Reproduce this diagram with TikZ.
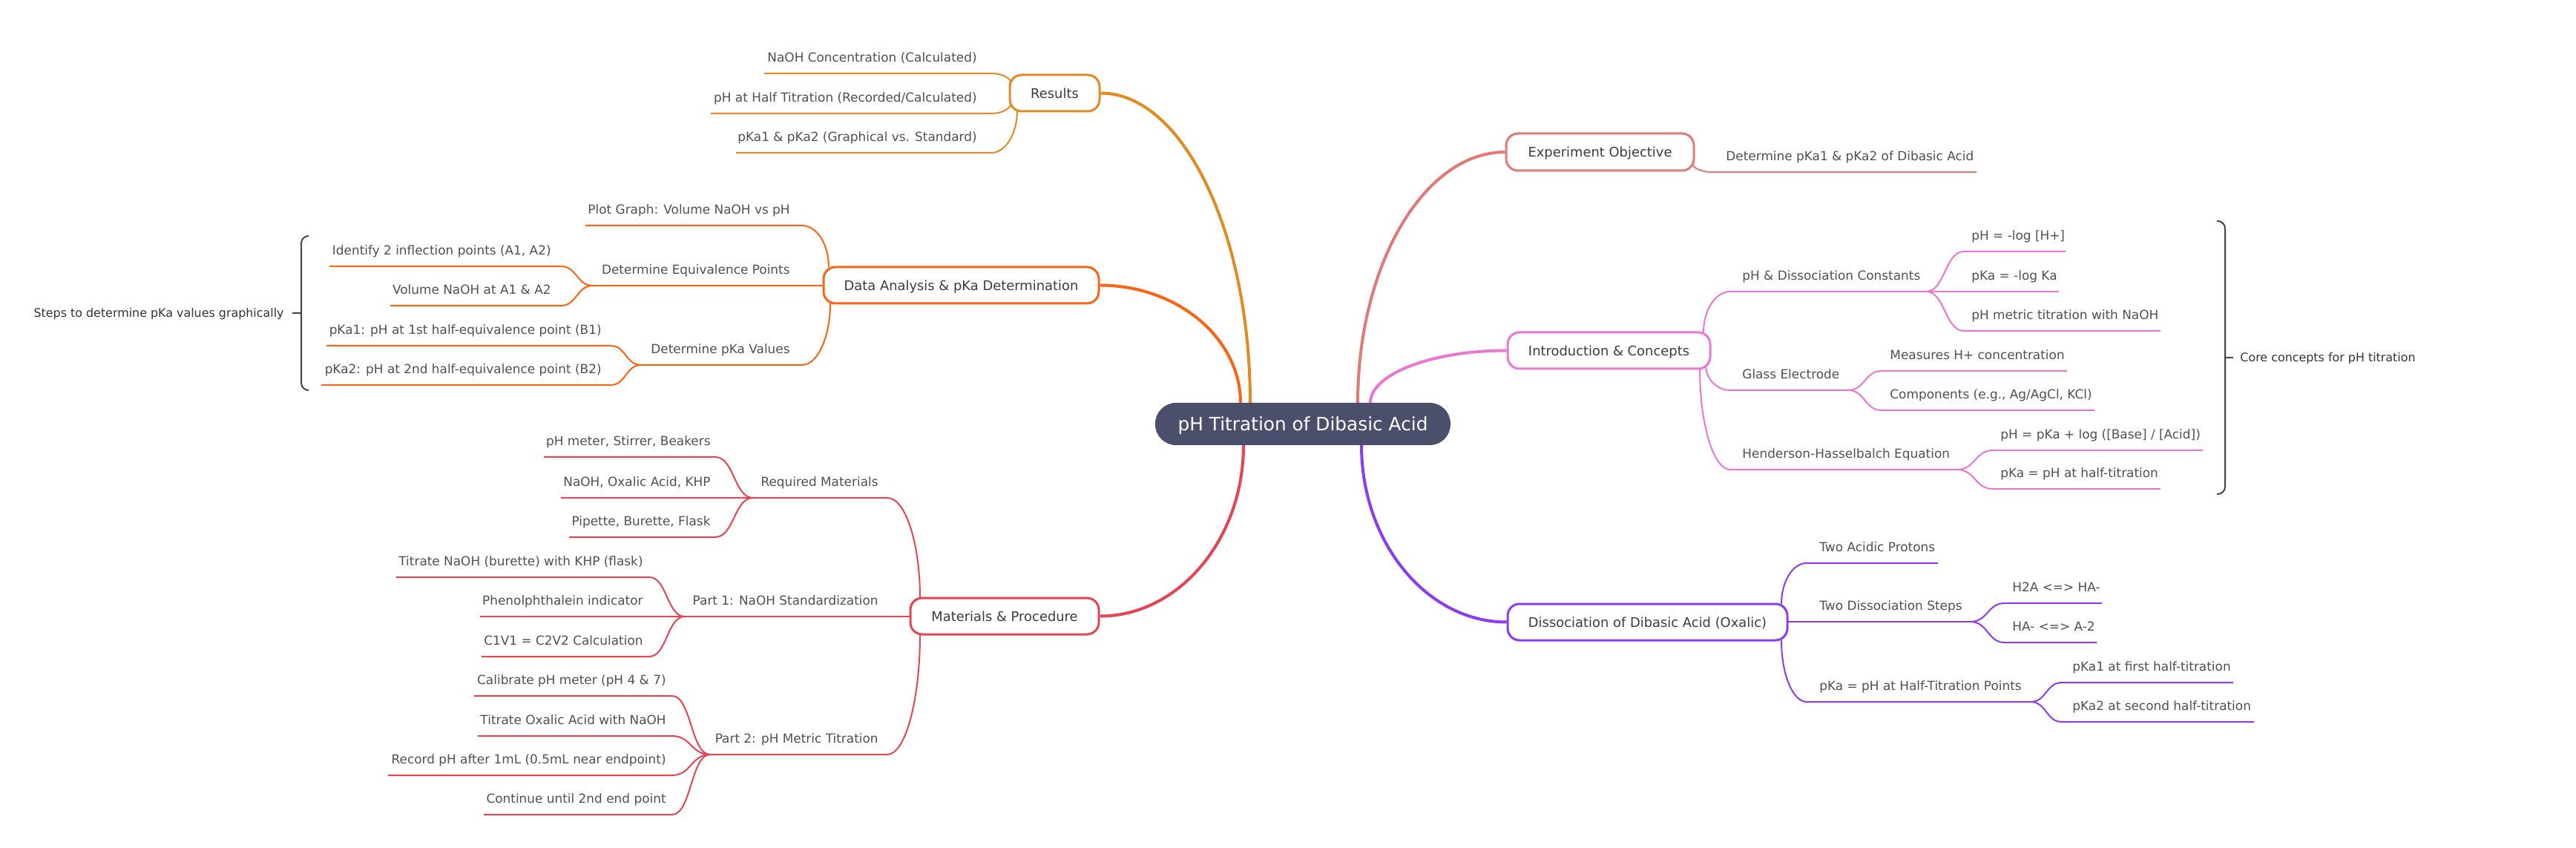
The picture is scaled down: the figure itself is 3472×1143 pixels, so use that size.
\documentclass[tikz,border=0pt]{standalone}
\usepackage{fontspec}
\setmainfont{DejaVu Sans}
\usetikzlibrary{calc}
\pgfdeclarelayer{bg}
\pgfsetlayers{bg,main}

\definecolor{cRes}{HTML}{E38B23}
\definecolor{cDat}{HTML}{FA6414}
\definecolor{cMat}{HTML}{E44553}
\definecolor{cExp}{HTML}{E07A76}
\definecolor{cInt}{HTML}{E878D2}
\definecolor{cDis}{HTML}{8C3CF0}
\definecolor{cRoot}{HTML}{4C4F6C}
\definecolor{cTxt}{HTML}{505050}
\definecolor{cBoxTxt}{HTML}{3C3C3C}
\definecolor{cBrace}{HTML}{444444}

\tikzset{
  elbowcurve/.style={to path={.. controls ($(\tikztostart)!0.55!(\tikztostart-|\tikztotarget)$) and ($(\tikztotarget)!0.55!(\tikztotarget|-\tikztostart)$) .. (\tikztotarget)}},
  scurve/.style={to path={.. controls ($(\tikztostart)!0.5!(\tikztostart-|\tikztotarget)$) and ($(\tikztotarget)!0.5!(\tikztotarget-|\tikztostart)$) .. (\tikztotarget)}},
  mainlink/.style={draw=#1, line width=2pt},
  leaflink/.style={draw=#1, line width=1pt},
  rootnode/.style={fill=cRoot, text=white, font=\fontsize{12.4}{14}\selectfont,
    rounded corners=14pt, minimum width=199pt, minimum height=28.5pt, inner sep=0pt,
    text height=9.05pt, text depth=0pt},
  boxnode/.style={draw=#1, fill=white, line width=1.5pt, rounded corners=8pt,
    minimum height=24.5pt, inner sep=0pt, font=\fontsize{8.95}{11}\selectfont,
    text=cBoxTxt, text height=6.53pt, text depth=0pt},
  leaf/.style={inner sep=0pt, font=\fontsize{8.45}{10}\selectfont, text=cTxt},
  note/.style={inner sep=0pt, font=\fontsize{7.95}{10}\selectfont, text=black!80},
  bracket/.style={draw=cBrace, line width=1pt, rounded corners=5pt}
}

\newcommand{\LeafL}[6]{%
  \coordinate (#1o) at (#5,#4);
  \coordinate (#1i) at (#6,#4);
  \node[leaf, anchor=base east] (#1) at (#3,#4-15.5) {#2};}
\newcommand{\LeafR}[6]{%
  \coordinate (#1i) at (#5,#4);
  \coordinate (#1o) at (#6,#4);
  \node[leaf, anchor=base west] (#1) at (#3,#4-15.5) {#2};}

\begin{document}
\begin{tikzpicture}[x=0.5pt, y=-0.5pt]
\useasboundingbox (0,0) rectangle (3472,1143);
\begin{pgfonlayer}{bg}
\fill[white] (0,0) rectangle (3472,1143);
\end{pgfonlayer}

% root and main boxes
\node[rootnode] (root) at (1756,571.5) {pH Titration of Dibasic Acid};
\node[boxnode=cRes, minimum width=60.5pt] (res) at (1421.5,125.5) {Results};
\node[boxnode=cDat, minimum width=185.5pt] (dat) at (1295.5,384.5) {Data Analysis \& pKa Determination};
\node[boxnode=cMat, minimum width=127pt] (mat) at (1354,830.5) {Materials \& Procedure};
\node[boxnode=cExp, minimum width=126.5pt, minimum height=25pt] (exp) at (2156.5,205) {Experiment Objective};
\node[boxnode=cInt, minimum width=136.5pt] (int) at (2168.5,472.5) {Introduction \& Concepts};
\node[boxnode=cDis, minimum width=188.5pt] (dis) at (2220.5,838.5) {Dissociation of Dibasic Acid (Oxalic)};

\coordinate (rootres) at (1685,543);
\coordinate (rootdat) at (1672,543);
\coordinate (rootmat) at (1676,600);
\coordinate (rootexp) at (1830,543);
\coordinate (rootint) at (1847,543);
\coordinate (rootdis) at (1835,600);

% attach points on boxes
\coordinate (resa) at (1363,113);
\coordinate (resb) at (1363,138);
\coordinate (resc) at (1371,149);
\coordinate (data) at (1117,360);
\coordinate (datc) at (1119,409);
\coordinate (mata) at (1240,806);
\coordinate (matc) at (1240,855);
\coordinate (expc) at (2281,220);
\coordinate (inta) at (2296,448);
\coordinate (intb) at (2299,492);
\coordinate (intc) at (2291,497);
\coordinate (disa) at (2401,814);
\coordinate (disc) at (2401,863);

% Results
\LeafL{ra}{NaOH Concentration (Calculated)}{1317}{99}{1030}{1336}
\LeafL{rb}{pH at Half Titration (Recorded/Calculated)}{1317}{153}{958}{1336}
\LeafL{rc}{pKa1 \& pKa2 (Graphical vs. Standard)}{1317}{206}{992}{1336}

% Data analysis
\LeafL{da}{Plot Graph: Volume NaOH vs pH}{1065}{304}{789}{1081}
\LeafL{db}{Determine Equivalence Points}{1065}{385}{799}{1110}
\LeafL{dba}{Identify 2 inflection points (A1, A2)}{743}{359}{444}{756}
\LeafL{dbb}{Volume NaOH at A1 \& A2}{743}{412}{526}{756}
\LeafL{dc}{Determine pKa Values}{1065}{492}{864}{1081}
\LeafL{dca}{pKa1: pH at 1st half-equivalence point (B1)}{811}{466}{440}{823}
\LeafL{dcb}{pKa2: pH at 2nd half-equivalence point (B2)}{811}{519}{433}{823}
\node[note, anchor=east] (stepsnote) at (383,423) {Steps to determine pKa values graphically};

% Materials
\LeafL{ma}{Required Materials}{1184}{671}{1015}{1196}
\LeafL{maa}{pH meter, Stirrer, Beakers}{958}{616}{733}{964}
\LeafL{mab}{NaOH, Oxalic Acid, KHP}{958}{671}{756}{1015}
\LeafL{mac}{Pipette, Burette, Flask}{958}{724}{767}{964}
\LeafL{mb}{Part 1: NaOH Standardization}{1184}{831}{923}{1227}
\LeafL{mba}{Titrate NaOH (burette) with KHP (flask)}{867}{778}{534}{875}
\LeafL{mbb}{Phenolphthalein indicator}{867}{831}{647}{923}
\LeafL{mbc}{C1V1 = C2V2 Calculation}{867}{885}{649}{875}
\LeafL{mc}{Part 2: pH Metric Titration}{1184}{1017}{957}{1196}
\LeafL{mca}{Calibrate pH meter (pH 4 \& 7)}{898}{938}{639}{906}
\LeafL{mcb}{Titrate Oxalic Acid with NaOH}{898}{992}{644}{906}
\LeafL{mcc}{Record pH after 1mL (0.5mL near endpoint)}{898}{1045}{523}{906}
\LeafL{mcd}{Continue until 2nd end point}{898}{1098}{652}{906}

% Experiment objective
\LeafR{ea}{Determine pKa1 \& pKa2 of Dibasic Acid}{2326}{232}{2308}{2664}

% Introduction
\LeafR{ia}{pH \& Dissociation Constants}{2348}{393}{2332}{2596}
\LeafR{iaa}{pH = -log [H+]}{2657}{339}{2647}{2784}
\LeafR{iab}{pKa = -log Ka}{2657}{393}{2596}{2775}
\LeafR{iac}{pH metric titration with NaOH}{2657}{446}{2647}{2912}
\LeafR{ib}{Glass Electrode}{2348}{526}{2332}{2491}
\LeafR{iba}{Measures H+ concentration}{2547}{500}{2536}{2786}
\LeafR{ibb}{Components (e.g., Ag/AgCl, KCl)}{2547}{553}{2536}{2823}
\LeafR{ic}{Henderson-Hasselbalch Equation}{2348}{633}{2332}{2638}
\LeafR{ica}{pH = pKa + log ([Base] / [Acid])}{2696}{607}{2686}{2969}
\LeafR{icb}{pKa = pH at half-titration}{2696}{659}{2686}{2912}
\node[note, anchor=west] (corenote) at (3019,483) {Core concepts for pH titration};

% Dissociation
\LeafR{sa}{Two Acidic Protons}{2452}{759}{2435}{2612}
\LeafR{sb}{Two Dissociation Steps}{2452}{838}{2409}{2656}
\LeafR{sba}{H2A <=> HA-}{2712}{813}{2702}{2833}
\LeafR{sbb}{HA- <=> A-2}{2712}{866}{2702}{2826}
\LeafR{sc}{pKa = pH at Half-Titration Points}{2452}{946}{2435}{2737}
\LeafR{sca}{pKa1 at first half-titration}{2793}{920}{2779}{3010}
\LeafR{scb}{pKa2 at second half-titration}{2793}{973}{2779}{3038}

\begin{pgfonlayer}{bg}
% main connectors
\draw[mainlink=cRes] (res.east) to[elbowcurve] (rootres);
\draw[mainlink=cDat] (dat.east) to[elbowcurve] (rootdat);
\draw[mainlink=cMat] (mat.east) to[elbowcurve] (rootmat);
\draw[mainlink=cExp] (exp.west) to[elbowcurve] (rootexp);
\draw[mainlink=cInt] (int.west) to[elbowcurve] (rootint);
\draw[mainlink=cDis] (dis.west) to[elbowcurve] (rootdis);

% Results
\draw[leaflink=cRes] (rao) -- (rai) to[elbowcurve] (resa);
\draw[leaflink=cRes] (rbo) -- (rbi) to[elbowcurve] (resb);
\draw[leaflink=cRes] (rco) -- (rci) to[elbowcurve] (resc);

% Data analysis
\draw[leaflink=cDat] (dao) -- (dai) to[elbowcurve] (data);
\draw[leaflink=cDat] (dbo) -- (dbi);
\draw[leaflink=cDat] (dbao) -- (dbai) to[scurve] (dbo);
\draw[leaflink=cDat] (dbbo) -- (dbbi) to[scurve] (dbo);
\draw[leaflink=cDat] (dco) -- (dci) to[elbowcurve] (datc);
\draw[leaflink=cDat] (dcao) -- (dcai) to[scurve] (dco);
\draw[leaflink=cDat] (dcbo) -- (dcbi) to[scurve] (dco);

% Materials
\draw[leaflink=cMat] (mao) -- (mai) to[elbowcurve] (mata);
\draw[leaflink=cMat] (maao) -- (maai) to[scurve] (mao);
\draw[leaflink=cMat] (mabo) -- (mabi);
\draw[leaflink=cMat] (maco) -- (maci) to[scurve] (mao);
\draw[leaflink=cMat] (mbo) -- (mbi);
\draw[leaflink=cMat] (mbao) -- (mbai) to[scurve] (mbo);
\draw[leaflink=cMat] (mbbo) -- (mbbi);
\draw[leaflink=cMat] (mbco) -- (mbci) to[scurve] (mbo);
\draw[leaflink=cMat] (mco) -- (mci) to[elbowcurve] (matc);
\draw[leaflink=cMat] (mcao) -- (mcai) to[scurve] (mco);
\draw[leaflink=cMat] (mcbo) -- (mcbi) to[scurve] (mco);
\draw[leaflink=cMat] (mcco) -- (mcci) to[scurve] (mco);
\draw[leaflink=cMat] (mcdo) -- (mcdi) to[scurve] (mco);

% Experiment objective
\draw[leaflink=cExp] (eao) -- (eai) to[elbowcurve] (expc);

% Introduction
\draw[leaflink=cInt] (iao) -- (iai) to[elbowcurve] (inta);
\draw[leaflink=cInt] (iaao) -- (iaai) to[scurve] (iao);
\draw[leaflink=cInt] (iabo) -- (iabi);
\draw[leaflink=cInt] (iaco) -- (iaci) to[scurve] (iao);
\draw[leaflink=cInt] (ibo) -- (ibi) to[elbowcurve] (intb);
\draw[leaflink=cInt] (ibao) -- (ibai) to[scurve] (ibo);
\draw[leaflink=cInt] (ibbo) -- (ibbi) to[scurve] (ibo);
\draw[leaflink=cInt] (ico) -- (ici) to[elbowcurve] (intc);
\draw[leaflink=cInt] (icao) -- (icai) to[scurve] (ico);
\draw[leaflink=cInt] (icbo) -- (icbi) to[scurve] (ico);

% Dissociation
\draw[leaflink=cDis] (sao) -- (sai) to[elbowcurve] (disa);
\draw[leaflink=cDis] (sbo) -- (sbi);
\draw[leaflink=cDis] (sbao) -- (sbai) to[scurve] (sbo);
\draw[leaflink=cDis] (sbbo) -- (sbbi) to[scurve] (sbo);
\draw[leaflink=cDis] (sco) -- (sci) to[elbowcurve] (disc);
\draw[leaflink=cDis] (scao) -- (scai) to[scurve] (sco);
\draw[leaflink=cDis] (scbo) -- (scbi) to[scurve] (sco);

% brackets
\draw[bracket] (415,318) -- (406,318) -- (406,526) -- (415,526);
\draw[draw=cBrace, line width=1pt] (406,422) -- (394,422);
\draw[bracket] (2988,298) -- (2999,298) -- (2999,666) -- (2988,666);
\draw[draw=cBrace, line width=1pt] (2999,482) -- (3010,482);
\end{pgfonlayer}
\end{tikzpicture}
\end{document}
